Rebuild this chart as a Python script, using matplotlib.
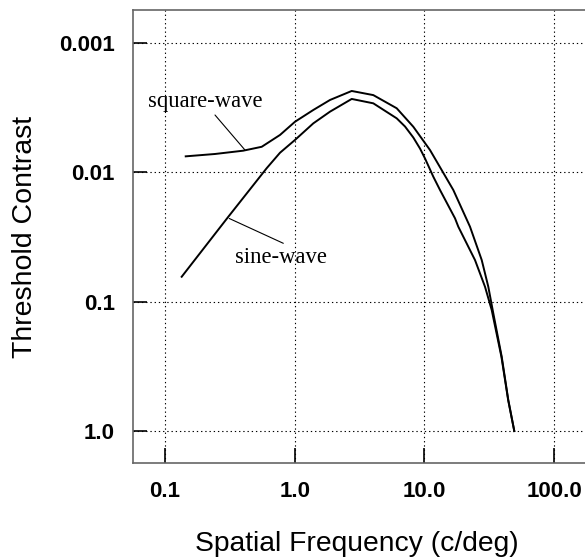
import matplotlib
matplotlib.use("Agg")
import numpy as np
from matplotlib import pyplot as plt

# values (c/deg, threshold contrast)
square_freq = [0.1445, 0.243, 0.400, 0.557, 0.771, 1.006, 1.392, 1.873, 2.754, 4.041,
               6.122, 8.222, 11.06, 16.73, 22.50, 27.70, 31.14, 34.03, 39.51, 44.41, 49.4]
square_thresh = [0.00755, 0.00724, 0.00683, 0.00637, 0.00516, 0.00408, 0.00331, 0.00277, 0.00236, 0.00254,
                 0.00321, 0.00446, 0.00675, 0.01374, 0.0264, 0.04774, 0.0768, 0.1232, 0.2667, 0.5763, 1.0]

sine_freq = [0.1345, 0.308, 0.608, 0.771, 1.006, 1.392, 1.873, 2.754, 4.041, 6.122,
             7.095, 8.222, 9.26, 10.12, 11.73, 13.21, 17.24, 18.28, 24.58, 29.37, 33.08, 39.3, 44.3, 49.4]
sine_thresh = [0.0643, 0.0221, 0.00933, 0.00708, 0.00564, 0.0042, 0.00341, 0.00272, 0.00294, 0.00384,
               0.00444, 0.0054, 0.00657, 0.00784, 0.01085, 0.01374, 0.02273, 0.0264, 0.04774, 0.0768,
               0.1162, 0.2667, 0.5763, 1.0]

x_ticks = [0.1, 1.0, 10.0, 100.0]
x_labels = ["0.1", "1.0", "10.0", "100.0"]
y_ticks = [0.001, 0.01, 0.1, 1.0]
y_labels = ["0.001", "0.01", "0.1", "1.0"]

W, H = 585, 560
fig = plt.figure(figsize=(W / 100, H / 100), dpi=100)
ax = fig.add_axes([132.7 / W, 1 - 463 / H, 1 - 132.7 / W, (463 - 10) / H])

ax.set_xscale("log")
ax.set_yscale("log")
ax.set_xlim(10 ** -1.249, 10 ** 2.239)
ax.set_ylim(10 ** 0.247, 10 ** -3.2526)

ax.plot(square_freq, square_thresh, color="black", lw=1.4, solid_joinstyle="round")
ax.plot(sine_freq, sine_thresh, color="black", lw=1.4, solid_joinstyle="round")

ax.set_xticks(x_ticks)
ax.set_xticklabels(x_labels, fontweight="bold", fontsize=16, family="Liberation Sans")
ax.set_yticks(y_ticks)
ax.set_yticklabels(y_labels, fontweight="bold", fontsize=16, family="Liberation Sans")
ax.minorticks_off()
ax.tick_params(axis="x", direction="in", length=11, width=1.2, pad=13, color="black")
ax.tick_params(axis="y", direction="in", length=10, width=1.2, pad=13, color="black")

ax.grid(True, color="black", lw=0.8, linestyle=(0, (1.2, 2.6)))

for side in ["left", "top", "bottom"]:
    ax.spines[side].set_color("#666666")
    ax.spines[side].set_linewidth(1.2)
ax.spines["right"].set_visible(False)

ax.set_xlabel("Spatial Frequency (c/deg)", fontsize=20.3, family="Liberation Sans", va="top")
ax.xaxis.set_label_coords(0.4948, -0.150)
ax.set_ylabel("Threshold Contrast", fontsize=20.5, family="Liberation Sans")
ax.yaxis.set_label_coords(-0.210, 0.5)

# curve labels with leader lines
fig.text(148, H - 106.7, "square-wave", fontsize=16.3, family="Liberation Serif",
         ha="left", va="baseline", transform=None)
ax.annotate("", xy=(0.414, 0.00675), xytext=(215, H - 115), textcoords="figure pixels",
            arrowprops=dict(arrowstyle="-", color="black", lw=0.8, shrinkA=0, shrinkB=0))
fig.text(235, H - 263, "sine-wave", fontsize=16.3, family="Liberation Serif",
         ha="left", va="baseline", transform=None)
ax.annotate("", xy=(0.313, 0.0228), xytext=(283.3, H - 243.3), textcoords="figure pixels",
            arrowprops=dict(arrowstyle="-", color="black", lw=0.8, shrinkA=0, shrinkB=0))

fig.savefig("out.png", dpi=100)
